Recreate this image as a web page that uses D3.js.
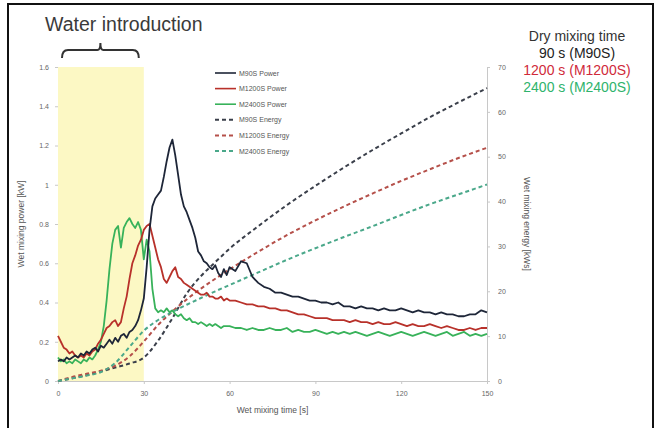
<!DOCTYPE html>
<html>
<head>
<meta charset="utf-8">
<script src="https://cdn.jsdelivr.net/npm/d3@7"></script>
<style>
  body { margin: 0; background: #fff; }
  svg { display: block; font-family: "Liberation Sans", Arial, sans-serif; }
</style>
</head>
<body>
<script>
// wet mixing time [s]
const time = [
  0, 1, 2, 3, 4, 5, 6, 7, 8, 9, 10, 11, 12, 13, 14, 15, 16, 17, 18, 19, 20,
  21, 22, 23, 24, 25, 26, 27, 28, 29, 30, 31, 32, 33, 34, 35, 36, 37, 38, 39, 40,
  41, 42, 43, 44, 45, 46, 47, 48, 49, 50, 51, 52, 53, 54, 55, 56, 57, 58, 59, 60,
  62, 64, 66, 68, 70, 72, 74, 76, 78, 80, 82, 84, 86, 88, 90, 92, 94, 96, 98, 100,
  102, 104, 106, 108, 110, 112, 114, 116, 118, 120, 122, 124, 126, 128, 130,
  132, 134, 136, 138, 140, 142, 144, 146, 148, 150
];

// power [kW]
const powerM90S = [
  0.10, 0.11, 0.10, 0.12, 0.11, 0.12, 0.13, 0.12, 0.14, 0.13, 0.15, 0.14, 0.16, 0.17, 0.15, 0.18, 0.17, 0.19, 0.21, 0.19, 0.22,
  0.20, 0.23, 0.24, 0.22, 0.25, 0.26, 0.28, 0.31, 0.36, 0.42, 0.58, 0.77, 0.89, 0.93, 0.95, 0.97, 1.04, 1.12, 1.19, 1.23,
  1.15, 1.05, 0.95, 0.89, 0.86, 0.82, 0.78, 0.73, 0.66, 0.64, 0.61, 0.60, 0.58, 0.57, 0.59, 0.55, 0.53, 0.57, 0.54, 0.58,
  0.56, 0.61, 0.60, 0.53, 0.50, 0.48, 0.47, 0.45, 0.45, 0.44, 0.43, 0.43, 0.42, 0.41, 0.41, 0.40, 0.40, 0.39, 0.40, 0.38,
  0.38, 0.37, 0.38, 0.37, 0.37, 0.36, 0.37, 0.36, 0.36, 0.37, 0.36, 0.35, 0.36, 0.35, 0.35,
  0.34, 0.35, 0.34, 0.34, 0.33, 0.33, 0.34, 0.34, 0.36, 0.35
];
const powerM1200S = [
  0.23, 0.20, 0.17, 0.16, 0.14, 0.15, 0.13, 0.12, 0.13, 0.12, 0.14, 0.13, 0.15, 0.16, 0.19, 0.21, 0.24, 0.27, 0.28, 0.30, 0.31,
  0.28, 0.30, 0.37, 0.43, 0.52, 0.60, 0.64, 0.69, 0.72, 0.77, 0.79, 0.80, 0.74, 0.68, 0.62, 0.58, 0.52, 0.50, 0.53, 0.56,
  0.58, 0.53, 0.52, 0.50, 0.49, 0.48, 0.47, 0.46, 0.45, 0.44, 0.44, 0.45, 0.43, 0.43, 0.42, 0.42, 0.43, 0.41, 0.42, 0.41,
  0.41, 0.40, 0.39, 0.39, 0.38, 0.38, 0.37, 0.37, 0.36, 0.36, 0.35, 0.34, 0.34, 0.33, 0.32, 0.32, 0.32, 0.31, 0.31, 0.31,
  0.30, 0.31, 0.30, 0.30, 0.29, 0.30, 0.29, 0.29, 0.30, 0.29, 0.28, 0.29, 0.28, 0.28, 0.29,
  0.28, 0.27, 0.28, 0.27, 0.26, 0.26, 0.27, 0.26, 0.27, 0.27
];
const powerM2400S = [
  0.12, 0.10, 0.11, 0.09, 0.10, 0.09, 0.11, 0.10, 0.09, 0.11, 0.10, 0.12, 0.11, 0.13, 0.16, 0.20, 0.28, 0.41, 0.57, 0.70, 0.77,
  0.79, 0.68, 0.78, 0.81, 0.83, 0.80, 0.78, 0.81, 0.77, 0.62, 0.72, 0.66, 0.47, 0.37, 0.35, 0.36, 0.35, 0.37, 0.35, 0.36,
  0.34, 0.33, 0.34, 0.32, 0.31, 0.32, 0.30, 0.30, 0.29, 0.30, 0.29, 0.28, 0.29, 0.28, 0.29, 0.28, 0.27, 0.28, 0.28, 0.28,
  0.27, 0.27, 0.26, 0.27, 0.26, 0.26, 0.27, 0.26, 0.26, 0.27, 0.25, 0.26, 0.25, 0.25, 0.26, 0.25, 0.24, 0.25, 0.24, 0.25,
  0.24, 0.25, 0.24, 0.23, 0.24, 0.25, 0.24, 0.23, 0.24, 0.25, 0.24, 0.23, 0.24, 0.25, 0.24,
  0.23, 0.24, 0.25, 0.23, 0.24, 0.25, 0.23, 0.24, 0.23, 0.24
];

// energy [kWs]
const energyTime = [0, 5, 10, 15, 20, 25, 30, 35, 40, 45, 50, 55, 60, 70, 80, 90, 100, 110, 120, 130, 140, 150];
const energyM90S = [0, 0.6, 1.3, 2.1, 3.0, 3.9, 5.2, 9.0, 14.0, 19.5, 23.4, 26.5, 29.5, 34.5, 39.2, 43.5, 47.6, 51.5, 55.2, 58.8, 62.1, 65.3];
const energyM1200S = [0, 0.9, 1.6, 2.3, 3.4, 5.5, 8.8, 12.5, 15.5, 18.2, 20.6, 22.8, 24.9, 28.8, 32.5, 35.8, 38.9, 41.8, 44.6, 47.2, 49.7, 52.0];
const energyM2400S = [0, 0.6, 1.2, 2.0, 4.0, 7.6, 11.2, 13.6, 15.4, 17.0, 18.5, 20.0, 21.4, 24.2, 27.0, 29.6, 32.1, 34.5, 37.0, 39.4, 41.6, 43.8];

const timeTicks = [0, 30, 60, 90, 120, 150];
const powerTicks = [0, 0.2, 0.4, 0.6, 0.8, 1, 1.2, 1.4, 1.6];
const energyTicks = [0, 10, 20, 30, 40, 50, 60, 70];
const waterWindow = [0, 30];

const legendNames = ["M90S Power", "M1200S Power", "M2400S Power", "M90S Energy", "M1200S Energy", "M2400S Energy"];
const dryLines = ["Dry mixing time", "90 s (M90S)", "1200 s (M1200S)", "2400 s (M2400S)"];

const colPower = ["#1e2638", "#b8312a", "#38b25a"];
const colEnergy = ["#3a3f4a", "#b5504a", "#4aa88a"];
const colDry = ["#333", "#222", "#d02a3a", "#2fb36c"];

const svg = d3.select("body").append("svg")
  .attr("width", 656)
  .attr("height", 428);

// frame
svg.append("path")
  .attr("d", "M8,428 V4 H653 V428")
  .attr("fill", "none")
  .attr("stroke", "#111")
  .attr("stroke-width", 2);

const x = d3.scaleLinear().domain([0, 150]).range([58, 487]);
const yP = d3.scaleLinear().domain([0, 1.6]).range([381, 67]);
const yE = d3.scaleLinear().domain([0, 70]).range([381, 67]);

// yellow band for water introduction
svg.append("rect")
  .attr("x", x(waterWindow[0]))
  .attr("y", yP(1.6))
  .attr("width", x(waterWindow[1]) - x(waterWindow[0]))
  .attr("height", yP(0) - yP(1.6))
  .attr("fill", "#fcf8c4");

// axes
const axisStyle = g => {
  g.selectAll("path, line").attr("stroke", "#c8c8c8");
  g.selectAll("text").attr("fill", "#666").style("font-size", "7px");
};

svg.append("g")
  .attr("transform", `translate(0,${yP(0)})`)
  .call(d3.axisBottom(x).tickValues(timeTicks).tickSize(3).tickSizeOuter(0).tickPadding(7))
  .call(axisStyle);

svg.append("g")
  .attr("transform", `translate(${x(0)},0)`)
  .call(d3.axisLeft(yP).tickValues(powerTicks).tickSize(3).tickPadding(6).tickFormat(d3.format("~g")))
  .call(g => g.select(".domain").remove())
  .call(axisStyle);

svg.append("g")
  .attr("transform", `translate(${x(150)},0)`)
  .call(d3.axisRight(yE).tickValues(energyTicks).tickSize(3).tickSizeOuter(0).tickPadding(8))
  .call(axisStyle);

// axis titles
svg.append("text")
  .attr("x", (x(0) + x(150)) / 2)
  .attr("y", 413)
  .attr("text-anchor", "middle")
  .attr("fill", "#555")
  .style("font-size", "8.5px")
  .text("Wet mixing time [s]");

svg.append("text")
  .attr("transform", `translate(24,${yP(0.8)}) rotate(-90)`)
  .attr("text-anchor", "middle")
  .attr("fill", "#555")
  .style("font-size", "8.5px")
  .text("Wet mixing power [kW]");

svg.append("text")
  .attr("transform", `translate(524,${yE(35)}) rotate(90)`)
  .attr("text-anchor", "middle")
  .attr("fill", "#555")
  .style("font-size", "8.5px")
  .text("Wet mixing energy [kWs]");

// energy (dashed)
const lineE = d3.line().x((d, i) => x(energyTime[i])).y(d => yE(d)).curve(d3.curveMonotoneX);
[energyM90S, energyM1200S, energyM2400S].forEach((s, i) => {
  svg.append("path")
    .datum(s)
    .attr("d", lineE)
    .attr("fill", "none")
    .attr("stroke", colEnergy[i])
    .attr("stroke-width", 2)
    .attr("stroke-dasharray", "4,3");
});

// power (solid), black drawn last
const lineP = d3.line().x((d, i) => x(time[i])).y(d => yP(d));
[powerM2400S, powerM1200S, powerM90S].forEach((s, k) => {
  const i = 2 - k;
  svg.append("path")
    .datum(s)
    .attr("d", lineP)
    .attr("fill", "none")
    .attr("stroke", colPower[i])
    .attr("stroke-width", 1.8)
    .attr("stroke-linejoin", "round");
});

// legend
const legend = svg.append("g");
legendNames.forEach((name, i) => {
  const yy = 73 + i * 15.6;
  const dashed = i > 2;
  legend.append("line")
    .attr("x1", 215).attr("x2", 236)
    .attr("y1", yy).attr("y2", yy)
    .attr("stroke", dashed ? colEnergy[i - 3] : colPower[i])
    .attr("stroke-width", dashed ? 2 : 1.6)
    .attr("stroke-dasharray", dashed ? "4,3" : null);
  legend.append("text")
    .attr("x", 239)
    .attr("y", yy + 2.5)
    .attr("fill", "#555")
    .style("font-size", "7px")
    .text(name);
});

// water introduction label and brace
svg.append("text")
  .attr("x", 45)
  .attr("y", 31)
  .attr("fill", "#3a3a3a")
  .style("font-size", "19.5px")
  .text("Water introduction");

const bx0 = x(waterWindow[0]) + 4, bx1 = x(waterWindow[1]) - 5, bm = (bx0 + bx1) / 2;
svg.append("path")
  .attr("d", `M${bx0},58 Q${bx0},50 ${bx0 + 6},50 H${bm - 3} Q${bm},50 ${bm},43 Q${bm},50 ${bm + 3},50 H${bx1 - 6} Q${bx1},50 ${bx1},58`)
  .attr("fill", "none")
  .attr("stroke", "#333")
  .attr("stroke-width", 2);

// dry mixing time block
dryLines.forEach((t, i) => {
  svg.append("text")
    .attr("x", 577)
    .attr("y", 41 + i * 17)
    .attr("text-anchor", "middle")
    .attr("fill", colDry[i])
    .style("font-size", "14px")
    .text(t);
});
</script>
</body>
</html>
